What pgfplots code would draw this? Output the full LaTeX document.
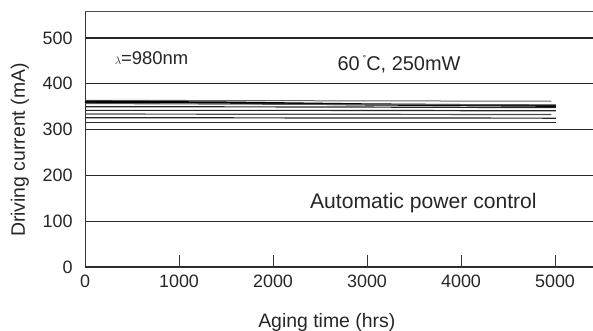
\documentclass[border=0pt]{standalone}
\usepackage{pgfplots}
\pgfplotsset{compat=1.18}
\usepackage{fontspec}
\setmainfont{Liberation Sans}
\begin{document}
\begin{tikzpicture}
\useasboundingbox (0,0) rectangle (593bp,331bp);
\begin{axis}[
  at={(85bp,64bp)}, anchor=south west,
  scale only axis, width=508bp, height=256bp,
  xmin=0, xmax=5404, ymin=0, ymax=559,
  axis x line=bottom, axis y line=left,
  axis line style={line width=0.9bp, black!80, -},
  xtick={0,1000,2000,3000,4000,5000},
  ytick={0,100,200,300,400,500},
  extra y ticks={559}, extra y tick labels={},
  extra y tick style={grid=major, major grid style={line width=0.8bp, black!70}},
  ymajorgrids, major grid style={line width=1.3bp, black!85},
  xtick style={line width=0.9bp, black!80}, major tick length=12bp,
  tick align=inside,
  ytick style={draw=none},
  scaled x ticks=false,
  /pgf/number format/assume math mode=true,
  /pgf/number format/1000 sep={},
  tick label style={font=\fontsize{18}{20}\selectfont, text=black!85},
  yticklabel style={xshift=-9bp},
  xticklabel style={yshift=-4bp},
  xlabel={Aging time (hrs)}, ylabel={Driving current (mA)},
  label style={font=\fontsize{19.5}{22}\selectfont, text=black!85},
  xlabel style={at={(axis description cs:0.476,-0.215)}, anchor=center},
  ylabel style={at={(axis description cs:-0.128,0.457)}, anchor=center, rotate=0},
  clip=false,
]
\addplot[black!60, line width=1bp] coordinates {(0,364) (2500,363) (4960,362)};
\addplot[black, line width=2.2bp] coordinates {(0,361) (1500,359) (3000,355) (5010,352)};
\addplot[black!65, line width=1.1bp] coordinates {(0,357) (2500,355) (5010,354)};
\addplot[black!85, line width=1.2bp] coordinates {(0,350) (2500,349.5) (5010,348)};
\addplot[black!85, line width=1.2bp] coordinates {(0,342) (2500,342) (5010,341)};
\addplot[black!70, line width=1.2bp] coordinates {(0,334) (2500,333.5) (4960,333)};
\addplot[black!85, line width=1.2bp] coordinates {(0,326) (2500,325.5) (5010,325)};
\addplot[black!85, line width=1.2bp] coordinates {(0,316) (2500,316) (5010,316)};
\node[anchor=west, font=\fontsize{18.5}{21}\selectfont, text=black!85] at (axis cs:280,455) {{\fontsize{11}{12}\selectfont$\lambda$}=980nm};
\node[anchor=center, font=\fontsize{20}{23}\selectfont, text=black!85] at (axis cs:3340,443) {60\,\raisebox{0.6ex}{\fontsize{10}{10}\selectfont\char"02DA}C, 250mW};
\node[anchor=center, font=\fontsize{21.2}{24}\selectfont, text=black!85] at (axis cs:3600,140) {Automatic power control};
\end{axis}
\end{tikzpicture}
\end{document}
